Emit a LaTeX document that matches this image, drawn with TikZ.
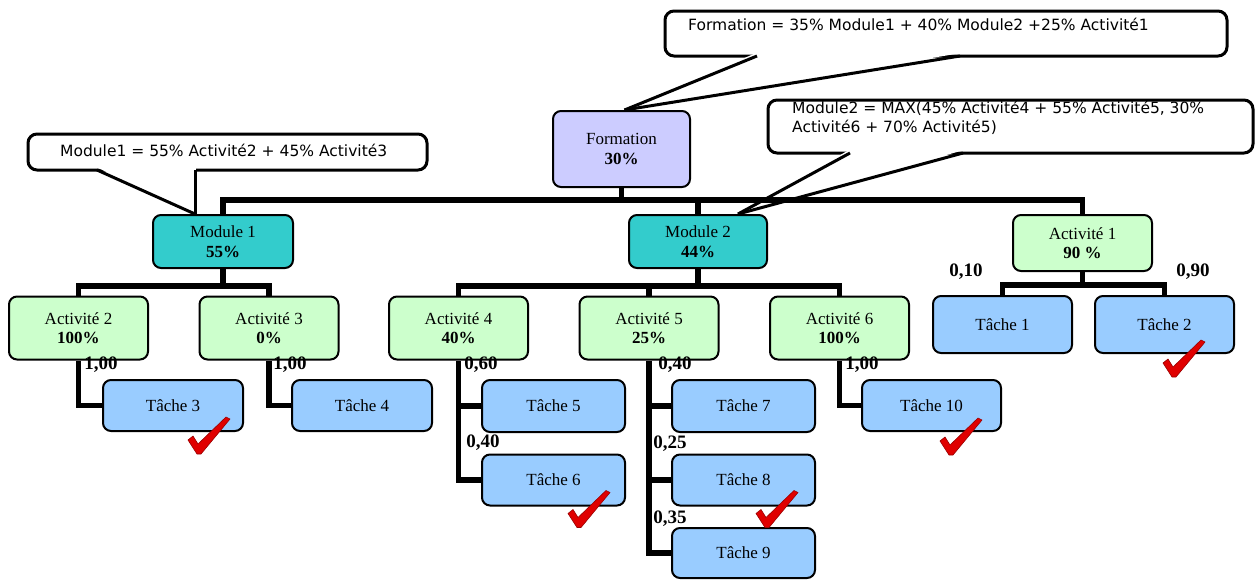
\documentclass[tikz,border=0pt]{standalone}
\usepackage{fontspec}
\setmainfont{Liberation Serif}
\newfontfamily\calloutfont{DejaVu Sans}
\usetikzlibrary{calc}
\definecolor{formc}{HTML}{CCCCFF}
\definecolor{modc}{HTML}{33CCCC}
\definecolor{actc}{HTML}{CCFFCC}
\definecolor{tachec}{HTML}{99CCFF}
\definecolor{checkred}{HTML}{E00000}
\pgfdeclarelayer{bg}
\pgfsetlayers{bg,main}
\begin{document}
\begin{tikzpicture}[x=1pt,y=-1pt,
 box/.style={draw=black, line width=2pt, rounded corners=8pt, align=center, inner sep=0pt, font=\fontsize{17}{19.5}\selectfont},
 formbox/.style={box, fill=formc, minimum width=137pt, minimum height=76pt},
 modbox/.style={box, fill=modc, minimum width=140pt, minimum height=53pt},
 actbox/.style={box, fill=actc, minimum width=139pt, minimum height=63pt},
 tbox/.style={box, fill=tachec, minimum width=140pt, minimum height=51pt},
 link/.style={line width=5.5pt},
 wt/.style={font=\bfseries\fontsize{19}{20}\selectfont, inner sep=0pt},
 callout/.style={draw=black, line width=3pt, rounded corners=9pt, fill=white},
 ctext/.style={font=\calloutfont\fontsize{15.5}{19}\selectfont, inner sep=0pt, align=left},
 tail/.style={line width=3pt},
 redcheck/.pic={\fill[checkred, draw=red!60!black, line width=0.6pt] (-11,-13) -- (-6,-17) -- (-1,-9) -- (27,-36) -- (31,-34) -- (2,1) -- (-2,1) -- cycle;}
]
\useasboundingbox (0,0) rectangle (1258,581);

% tree nodes
\node[formbox] (form) at (621.5,149) {Formation\\\textbf{30\%}};
\node[modbox] (m1) at (223,241.5) {Module 1\\\textbf{55\%}};
\node[modbox, minimum width=138pt] (m2) at (698,241.5) {Module 2\\\textbf{44\%}};
\node[actbox, minimum height=56pt] (a1) at (1082.5,243) {Activité 1\\\textbf{90 \%}};
\node[actbox] (a2) at (78.5,328) {Activité 2\\\textbf{100\%}};
\node[actbox] (a3) at (269,328) {Activité 3\\\textbf{0\%}};
\node[actbox] (a4) at (458.5,328) {Activité 4\\\textbf{40\%}};
\node[actbox] (a5) at (649,328) {Activité 5\\\textbf{25\%}};
\node[actbox] (a6) at (839.5,328) {Activité 6\\\textbf{100\%}};
\node[tbox, minimum width=139pt, minimum height=57pt] (t1) at (1002.5,324.5) {Tâche 1};
\node[tbox, minimum width=139pt, minimum height=57pt] (t2) at (1164.5,324.5) {Tâche 2};
\node[tbox] (t3) at (173,405.5) {Tâche 3};
\node[tbox] (t4) at (362,405.5) {Tâche 4};
\node[tbox, minimum width=143pt, minimum height=52pt] (t5) at (553.5,406) {Tâche 5};
\node[tbox, minimum width=143pt, minimum height=51pt] (t6) at (553.5,480) {Tâche 6};
\node[tbox, minimum width=143pt, minimum height=52pt] (t7) at (743.5,406) {Tâche 7};
\node[tbox, minimum width=143pt, minimum height=51pt] (t8) at (743.5,480) {Tâche 8};
\node[tbox, minimum width=143pt, minimum height=50pt] (t9) at (743.5,553) {Tâche 9};
\node[tbox, minimum width=139pt] (t10) at (931.5,405.5) {Tâche 10};

\begin{pgfonlayer}{bg}
% callouts
\node[callout, minimum width=562pt, minimum height=45pt] (cf) at (946,33.5) {};
\node[callout, minimum width=399pt, minimum height=36pt] (cm1) at (227.5,152) {};
\node[callout, minimum width=485pt, minimum height=53pt] (cm2) at (1010.5,126.5) {};
\coordinate (cfL) at (757,56);
\coordinate (cfR) at (960,56);
\coordinate (cfT) at ($(form.north)+(3,0)$);
\coordinate (c1L) at (97,170);
\coordinate (c1R) at (195,170);
\coordinate (c1T) at ($(m1.north)+(-28,0)$);
\coordinate (c2L) at (850,153);
\coordinate (c2R) at (963,153);
\coordinate (c2T) at ($(m2.north)+(40,0)$);
\fill[white] ($(cfL)+(-1,-3)$) -- (cfT) -- ($(cfR)+(1,-3)$) -- cycle;
\fill[white] ($(c1L)+(-1,-3)$) -- (c1T) -- ($(c1R)+(1,-3)$) -- cycle;
\fill[white] ($(c2L)+(-1,-3)$) -- (c2T) -- ($(c2R)+(1,-3)$) -- cycle;
\draw[tail] (cfL) -- (cfT);
\draw[tail] (cfR) -- (cfT);
\draw[tail] (c1L) -- (c1T);
\draw[tail] (c1R) -- (c1T);
\draw[tail] (c2L) -- (c2T);
\draw[tail] (c2R) -- (c2T);
% tree links
\draw[link] (m1.north) -- ++(0,-14) -| (a1.north);
\draw[link] (form.south) -- ++(0,14);
\draw[link] (m2.north) -- ++(0,-14);
\draw[link] (m1.south) -- ++(0,17) coordinate (j1);
\draw[link] (a2.north) |- (j1) -| (a3.north);
\draw[link] (m2.south) -- ++(0,17) coordinate (j2);
\draw[link] (a4.north) |- (j2) -| (a6.north);
\draw[link] (a5.north) -- (a5.north |- j2);
\draw[link] (a1.south) -- ++(0,13) coordinate (j3);
\draw[link] (t1.north) |- (j3) -| (t2.north);
\draw[link] (a2.south) |- (t3.west);
\draw[link] (a3.south) |- (t4.west);
\draw[link] (a4.south) |- (t6.west);
\draw[link] (a4.south |- t5.west) -- (t5.west);
\draw[link] (a5.south) |- (t9.west);
\draw[link] (a5.south |- t7.west) -- (t7.west);
\draw[link] (a5.south |- t8.west) -- (t8.west);
\draw[link] (a6.south) |- (t10.west);
\end{pgfonlayer}

% callout texts
\node[ctext, anchor=west] (cft) at (688,24) {Formation = 35\% Module1 + 40\% Module2 +25\% Activité1};
\node[ctext, anchor=west] (cm1t) at (60,150) {Module1 = 55\% Activité2 + 45\% Activité3};
\node[ctext, anchor=west] (cm2t) at (792,118) {Module2 = MAX(45\% Activité4 + 55\% Activité5, 30\%\\Activité6 + 70\% Activité5)};

% weights
\node[wt] (w3) at (101,365) {1,00};
\node[wt] (w4) at (290,365) {1,00};
\node[wt] (w5) at (481,365) {0,60};
\node[wt] (w6) at (483,443) {0,40};
\node[wt] (w7) at (675,365) {0,40};
\node[wt] (w8) at (670,444) {0,25};
\node[wt] (w9) at (670,519) {0,35};
\node[wt] (w10) at (862,365) {1,00};
\node[wt] (w1) at (966,272) {0,10};
\node[wt] (w2) at (1193,272) {0,90};

% checks
\pic at ($(t3.south east)+(-45,21)$) {redcheck};
\pic at ($(t6.south east)+(-47,20)$) {redcheck};
\pic at ($(t8.south east)+(-49,20)$) {redcheck};
\pic at ($(t10.south east)+(-51,22)$) {redcheck};
\pic at ($(t2.south east)+(-61,22)$) {redcheck};
\end{tikzpicture}
\end{document}
